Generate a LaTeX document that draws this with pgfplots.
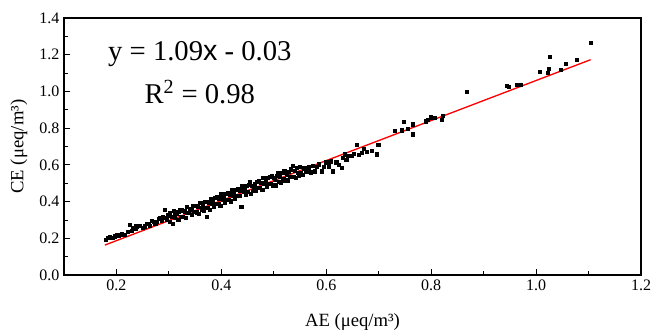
\documentclass[border=0pt]{standalone}
\usepackage{pgfplots}
\pgfplotsset{compat=1.18}
\usepackage{fontspec}
\setmainfont{Liberation Serif}
\newfontfamily\arial{Liberation Sans}
\begin{document}
\begin{tikzpicture}
\begin{axis}[
  scale only axis,
  width=433pt, height=193pt,
  xmin=0.1, xmax=1.2, ymin=0, ymax=1.4,
  xtick={0.2,0.4,...,1.2}, ytick={0,0.2,...,1.4},
  minor x tick num=1, minor y tick num=1,
  tick align=inside, xtick pos=bottom, ytick pos=left,
  major tick length=4.5pt, minor tick length=3pt,
  tick style={black, line width=0.8pt},
  axis line style={line width=1.1pt},
  /pgf/number format/assume math mode=true,
  xticklabel style={/pgf/number format/.cd, fixed, fixed zerofill, precision=1},
  yticklabel style={/pgf/number format/.cd, fixed, fixed zerofill, precision=1},
  ticklabel style={font=\fontsize{12}{14}\selectfont},
  label style={font=\fontsize{14}{16}\selectfont},
  xlabel={AE (μeq/m³)}, ylabel={CE (μeq/m³)},
  xlabel style={at={(axis description cs:0.5,-0.183)}, anchor=center},
  ylabel style={at={(axis description cs:-0.078,0.5)}, anchor=center},
  clip=false,
]
\addplot[only marks, mark=square*, mark size=1.2pt, black] table {
0.180 0.195
0.183 0.204
0.188 0.208
0.192 0.203
0.197 0.212
0.200 0.219
0.204 0.214
0.207 0.220
0.210 0.226
0.215 0.222
0.222 0.236
0.226 0.276
0.229 0.244
0.232 0.258
0.236 0.252
0.238 0.266
0.245 0.270
0.250 0.256
0.254 0.266
0.258 0.280
0.261 0.282
0.264 0.270
0.267 0.296
0.271 0.290
0.274 0.280
0.277 0.292
0.280 0.306
0.283 0.310
0.286 0.296
0.289 0.318
0.292 0.356
0.294 0.312
0.296 0.300
0.299 0.326
0.302 0.290
0.302 0.338
0.305 0.320
0.308 0.281
0.310 0.350
0.311 0.313
0.311 0.338
0.314 0.334
0.318 0.302
0.318 0.347
0.320 0.353
0.322 0.320
0.324 0.353
0.327 0.318
0.330 0.348
0.332 0.312
0.334 0.372
0.334 0.338
0.337 0.341
0.340 0.363
0.343 0.328
0.343 0.356
0.345 0.378
0.348 0.345
0.350 0.380
0.353 0.343
0.353 0.338
0.355 0.375
0.357 0.336
0.360 0.394
0.362 0.369
0.362 0.356
0.364 0.387
0.366 0.351
0.368 0.399
0.370 0.367
0.372 0.319
0.372 0.401
0.374 0.366
0.376 0.396
0.378 0.358
0.380 0.416
0.382 0.390
0.384 0.409
0.386 0.373
0.388 0.421
0.390 0.389
0.392 0.425
0.394 0.388
0.396 0.418
0.398 0.380
0.400 0.440
0.402 0.412
0.404 0.430
0.406 0.395
0.408 0.445
0.410 0.411
0.412 0.447
0.414 0.409
0.416 0.439
0.418 0.402
0.420 0.462
0.422 0.434
0.424 0.452
0.426 0.416
0.428 0.467
0.430 0.433
0.432 0.469
0.434 0.431
0.436 0.461
0.438 0.374
0.440 0.484
0.442 0.456
0.444 0.474
0.446 0.438
0.448 0.488
0.450 0.455
0.452 0.491
0.454 0.506
0.456 0.443
0.458 0.485
0.460 0.459
0.462 0.478
0.464 0.496
0.466 0.460
0.468 0.510
0.470 0.476
0.472 0.513
0.474 0.475
0.476 0.505
0.478 0.467
0.480 0.529
0.482 0.499
0.484 0.518
0.486 0.482
0.488 0.532
0.490 0.498
0.492 0.534
0.494 0.496
0.496 0.539
0.498 0.489
0.500 0.531
0.502 0.521
0.504 0.489
0.506 0.542
0.508 0.557
0.510 0.508
0.512 0.538
0.514 0.502
0.516 0.556
0.518 0.525
0.520 0.567
0.522 0.517
0.524 0.547
0.527 0.514
0.529 0.565
0.531 0.535
0.533 0.577
0.536 0.597
0.538 0.536
0.540 0.569
0.542 0.529
0.544 0.584
0.546 0.557
0.548 0.541
0.550 0.590
0.552 0.558
0.555 0.547
0.558 0.582
0.562 0.566
0.566 0.588
0.570 0.560
0.574 0.596
0.578 0.566
0.582 0.590
0.586 0.604
0.591 0.566
0.596 0.592
0.600 0.615
0.605 0.593
0.609 0.620
0.613 0.566
0.619 0.615
0.624 0.600
0.629 0.584
0.632 0.640
0.635 0.658
0.638 0.630
0.642 0.652
0.648 0.648
0.652 0.660
0.658 0.712
0.662 0.654
0.667 0.667
0.672 0.690
0.677 0.672
0.686 0.676
0.696 0.658
0.699 0.708
0.730 0.784
0.744 0.789
0.748 0.833
0.755 0.795
0.765 0.822
0.765 0.767
0.790 0.838
0.793 0.844
0.799 0.860
0.807 0.855
0.820 0.844
0.822 0.866
0.868 0.997
0.944 1.030
0.948 1.025
0.963 1.036
0.970 1.036
1.007 1.107
1.022 1.101
1.024 1.123
1.026 1.189
1.047 1.118
1.056 1.151
1.077 1.173
1.104 1.266
};
\addplot[red, line width=1pt] table {
0.178 0.164
1.104 1.173
};
\node[font=\fontsize{21.5}{26}\selectfont] at (axis cs:0.359,1.205) {y = 1.09{\arial x} - 0.03};
\node[font=\fontsize{21.5}{26}\selectfont] at (axis cs:0.359,0.997) {R\textsuperscript{2} = 0.98};
\coordinate (sw) at (rel axis cs:0,0);
\coordinate (ne) at (rel axis cs:1,1);
\end{axis}
\pgfresetboundingbox
\path ([shift={(-48pt,-42.75pt)}]sw) rectangle ([shift={(9.75pt,13.5pt)}]ne);
\end{tikzpicture}
\end{document}
